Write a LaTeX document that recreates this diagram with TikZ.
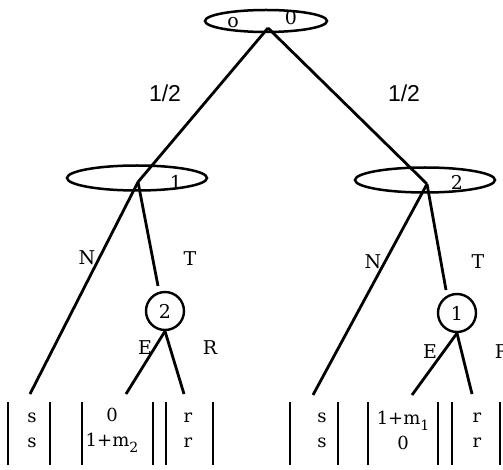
\documentclass[tikz,border=0pt]{standalone}
\usepackage{fontspec}
\setmainfont{DejaVu Serif}
\newfontfamily\labsans{Liberation Sans}
\usetikzlibrary{shapes.geometric}
\newcommand{\lowsub}[1]{\raisebox{-6pt}{\fontsize{14}{14}\selectfont #1}}
\begin{document}
\begin{tikzpicture}[x=1pt,y=-1pt,
  edge/.style={line width=2.8pt},
  info/.style={draw,ellipse,line width=2.5pt,inner sep=0pt},
  chance/.style={draw,circle,line width=2.4pt,minimum size=38pt,inner sep=0pt,font=\fontsize{19}{22}\selectfont},
  lab/.style={font=\fontsize{19}{22}\selectfont,inner sep=0pt},
  prob/.style={font=\labsans\fontsize{23}{26}\selectfont,inner sep=0pt},
  bar/.style={line width=2.8pt},
  pay/.style={font=\fontsize{18}{25}\selectfont,align=center,inner sep=0pt}]
\useasboundingbox (0,0) rectangle (503,470);
% root
\node[info,minimum width=122pt,minimum height=22pt] (root) at (266,21) {};
\node[lab] (rootA) at (233,23) {o};
\node[lab] (rootB) at (291,18) {0};
\coordinate (r0) at (268,28);
% player 1 information set
\node[info,minimum width=140pt,minimum height=25pt] (is1) at (137,178) {};
\node[lab] (is1lab) at (176,182) {1};
\coordinate (n1) at (138,182);
% player 2 information set
\node[info,minimum width=140pt,minimum height=25pt] (is2) at (425,180) {};
\node[lab] (is2lab) at (457,182) {2};
\coordinate (n2) at (427,184);
\draw[edge] (r0) -- (n1);
\draw[edge] (r0) -- (n2);
\node[prob] (pl) at (165,93) {1/2};
\node[prob] (pr) at (404,93) {1/2};
% left subtree
\node[chance] (c2) at (165,311) {2};
\coordinate (t1) at (158,286);
\coordinate (lN1) at (30,394);
\coordinate (lE1) at (126,394);
\coordinate (lR1) at (184,394);
\draw[edge] (n1) -- (lN1);
\draw[edge] (n1) -- (t1);
\draw[edge] (c2.south) -- (lE1);
\draw[edge] (c2.south) -- (lR1);
\node[lab] (N1) at (87,258) {N};
\node[lab] (T1) at (190,259) {T};
\node[lab] (E1) at (145,348) {E};
\node[lab] (R1) at (210,348) {R};
% right subtree
\node[chance] (c1) at (457,313) {1};
\coordinate (t2) at (446,290);
\coordinate (lN2) at (313,395);
\coordinate (lE2) at (412,395);
\coordinate (lR2) at (472,394);
\draw[edge] (n2) -- (lN2);
\draw[edge] (n2) -- (t2);
\draw[edge] (c1.south) -- (lE2);
\draw[edge] (c1.south) -- (lR2);
\node[lab] (N2) at (373,262) {N};
\node[lab] (T2) at (478,262) {T};
\node[lab] (E2) at (430,352) {E};
\node[lab] (R2) at (502,352) {R};
% payoffs left
\node[pay] (p1) at (32,430) {s\\s};
\node[pay] (p2) at (112,430) {0\\1+m\lowsub{2}};
\node[pay] (p3) at (188,430) {r\\r};
\foreach \x in {8,50,82,153,166,213} \draw[bar] (\x,402) -- (\x,465);
% payoffs right
\node[pay] (p4) at (322,430) {s\\s};
\node[pay] (p5) at (403,430) {1+m\lowsub{1}\\0};
\node[pay] (p6) at (477,430) {r\\r};
\foreach \x in {290,338,368,438,452,500} \draw[bar] (\x,402) -- (\x,465);
\end{tikzpicture}
\end{document}
